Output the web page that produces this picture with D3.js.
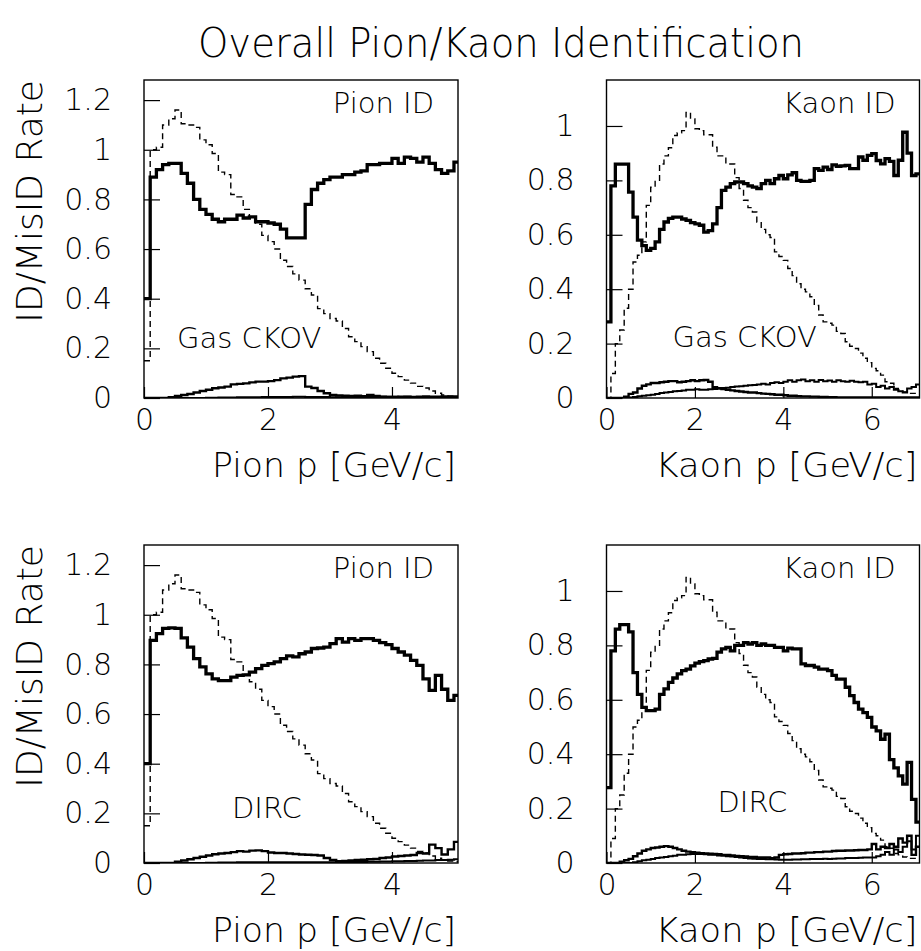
<!DOCTYPE html>
<html>
<head>
<meta charset="utf-8">
<script src="https://cdn.jsdelivr.net/npm/d3@7"></script>
<style>
  body { margin: 0; background: #fff; }
  svg text { font-family: "DejaVu Sans", "Liberation Sans", sans-serif; font-weight: 200; fill: #000; }
</style>
</head>
<body>
<svg id="chart" width="921" height="951"></svg>
<script>
// All histograms use 0.1 GeV/c bins starting at p = 0
const binWidth = 0.1;

// Momentum spectra (dashed), shared by both detector rows
const pionMomentum = [0.15, 1.00, 1.01, 1.10, 1.125, 1.16, 1.105, 1.10, 1.09, 1.04,
    1.02, 0.985, 0.91, 0.90, 0.82, 0.81, 0.76, 0.73, 0.70, 0.655,
    0.63, 0.60, 0.555, 0.53, 0.50, 0.475, 0.44, 0.415, 0.36, 0.34,
    0.32, 0.31, 0.28, 0.247, 0.227, 0.207, 0.187, 0.16, 0.14, 0.12,
    0.10, 0.086, 0.072, 0.06, 0.047, 0.04, 0.028, 0.019, 0.012, 0.008,
    0.005];
const kaonMomentum = [0, 0.09, 0.20, 0.25, 0.33, 0.40, 0.50, 0.525, 0.574, 0.708,
    0.775, 0.80, 0.86, 0.89, 0.92, 0.965, 0.975, 0.983, 1.05, 1.026,
    0.99, 0.983, 0.968, 0.968, 0.922, 0.89, 0.89, 0.86, 0.86, 0.81,
    0.77, 0.727, 0.70, 0.684, 0.647, 0.62, 0.60, 0.59, 0.537, 0.52,
    0.506, 0.476, 0.45, 0.42, 0.40, 0.39, 0.372, 0.34, 0.305, 0.28,
    0.275, 0.268, 0.245, 0.237, 0.207, 0.19, 0.182, 0.165, 0.146, 0.13,
    0.109, 0.10, 0.084, 0.06, 0.054, 0.035, 0.03, 0.022, 0.017, 0.017,
    0.017];

// Gas CKOV
const pionIdGas = [0.40, 0.89, 0.92, 0.94, 0.945, 0.945, 0.905, 0.865, 0.80, 0.76,
    0.74, 0.72, 0.71, 0.72, 0.72, 0.737, 0.725, 0.73, 0.71, 0.71,
    0.705, 0.70, 0.68, 0.645, 0.645, 0.645, 0.78, 0.84, 0.865, 0.88,
    0.89, 0.89, 0.90, 0.90, 0.91, 0.915, 0.94, 0.94, 0.945, 0.945,
    0.965, 0.945, 0.97, 0.965, 0.95, 0.97, 0.945, 0.92, 0.905, 0.915,
    0.95];
const pionMisGasA = [0, 0, 0, 0, 0.003, 0.008, 0.012, 0.016, 0.022, 0.028,
    0.033, 0.039, 0.042, 0.046, 0.055, 0.057, 0.059, 0.063, 0.066, 0.066,
    0.068, 0.072, 0.079, 0.082, 0.086, 0.088, 0.046, 0.040, 0.028, 0.019,
    0.012, 0.010, 0.009, 0.008, 0.009, 0.007, 0.012, 0.008, 0.005, 0.004,
    0.004, 0.003, 0.004, 0.003, 0.003, 0.002, 0.003, 0.002, 0.002, 0.002,
    0.002];
const pionMisGasB = [0, 0, 0, 0, 0, 0, 0, 0, 0, 0,
    0.001, 0.001, 0.002, 0.002, 0.002, 0.003, 0.003, 0.003, 0.003, 0.004,
    0.004, 0.004, 0.004, 0.004, 0.005, 0.005, 0.004, 0.004, 0.004, 0.004,
    0.003, 0.003, 0.003, 0.003, 0.003, 0.004, 0.004, 0.004, 0.005, 0.005,
    0.005, 0.006, 0.006, 0.005, 0.006, 0.007, 0.006, 0.006, 0.007, 0.006,
    0.007];
const kaonIdGas = [0.28, 0.78, 0.86, 0.86, 0.86, 0.757, 0.665, 0.58, 0.56, 0.543,
    0.55, 0.574, 0.62, 0.647, 0.66, 0.665, 0.665, 0.658, 0.653, 0.645,
    0.64, 0.635, 0.61, 0.615, 0.64, 0.70, 0.763, 0.775, 0.788, 0.794,
    0.794, 0.788, 0.78, 0.775, 0.77, 0.788, 0.80, 0.788, 0.806, 0.818,
    0.806, 0.82, 0.828, 0.80, 0.796, 0.796, 0.80, 0.843, 0.837, 0.849,
    0.84, 0.857, 0.852, 0.853, 0.855, 0.843, 0.843, 0.886, 0.874, 0.892,
    0.898, 0.873, 0.861, 0.88, 0.87, 0.818, 0.874, 0.977, 0.90, 0.818,
    0.824];
const kaonMisGasA = [0, 0, 0, 0, 0.005, 0.015, 0.02, 0.035, 0.045, 0.05,
    0.055, 0.055, 0.058, 0.06, 0.062, 0.062, 0.058, 0.06, 0.062, 0.065,
    0.062, 0.065, 0.066, 0.06, 0.04, 0.036, 0.033, 0.03, 0.028, 0.026,
    0.024, 0.022, 0.02, 0.02, 0.018, 0.016, 0.015, 0.014, 0.012, 0.012,
    0.01, 0.008, 0.008, 0.007, 0.006, 0.006, 0.005, 0.005, 0.004, 0.004,
    0.003, 0.003, 0.002, 0.002, 0.002, 0.002, 0.002, 0.002, 0.002, 0.002,
    0.002, 0.002, 0.002, 0.002, 0.002, 0.002, 0.002, 0.002, 0.002, 0.002,
    0.002];
const kaonMisGasB = [0, 0, 0, 0, 0, 0.002, 0.004, 0.006, 0.008, 0.01,
    0.012, 0.015, 0.018, 0.02, 0.022, 0.025, 0.026, 0.028, 0.03, 0.03,
    0.032, 0.03, 0.03, 0.032, 0.033, 0.035, 0.037, 0.038, 0.04, 0.042,
    0.043, 0.045, 0.047, 0.048, 0.05, 0.052, 0.05, 0.055, 0.058, 0.055,
    0.06, 0.065, 0.06, 0.065, 0.068, 0.062, 0.065, 0.06, 0.066, 0.062,
    0.064, 0.06, 0.065, 0.062, 0.06, 0.063, 0.06, 0.058, 0.06, 0.05,
    0.052, 0.04, 0.045, 0.035, 0.04, 0.03, 0.025, 0.02, 0.035, 0.04,
    0.05];

// DIRC
const pionIdDirc = [0.40, 0.897, 0.924, 0.945, 0.947, 0.945, 0.907, 0.87, 0.823, 0.79,
    0.762, 0.742, 0.735, 0.735, 0.749, 0.756, 0.758, 0.769, 0.783, 0.796,
    0.803, 0.81, 0.823, 0.834, 0.83, 0.843, 0.85, 0.864, 0.866, 0.87,
    0.884, 0.904, 0.89, 0.904, 0.897, 0.904, 0.904, 0.897, 0.888, 0.88,
    0.864, 0.85, 0.837, 0.816, 0.796, 0.742, 0.695, 0.756, 0.70, 0.655,
    0.675];
const pionMisDircA = [0, 0, 0, 0, 0, 0.005, 0.01, 0.015, 0.02, 0.025,
    0.03, 0.035, 0.038, 0.04, 0.044, 0.048, 0.046, 0.05, 0.051, 0.048,
    0.042, 0.04, 0.04, 0.038, 0.036, 0.034, 0.033, 0.032, 0.03, 0.02,
    0.012, 0.007, 0.008, 0.01, 0.012, 0.013, 0.015, 0.016, 0.02, 0.022,
    0.026, 0.028, 0.03, 0.032, 0.04, 0.038, 0.074, 0.06, 0.034, 0.055,
    0.085];
const pionMisDircB = [0, 0, 0, 0, 0, 0, 0, 0, 0, 0,
    0.001, 0.001, 0.002, 0.002, 0.002, 0.003, 0.003, 0.003, 0.003, 0.003,
    0.003, 0.003, 0.003, 0.003, 0.003, 0.003, 0.003, 0.003, 0.003, 0.003,
    0.003, 0.003, 0.003, 0.004, 0.004, 0.004, 0.005, 0.005, 0.006, 0.006,
    0.007, 0.007, 0.008, 0.008, 0.009, 0.01, 0.01, 0.012, 0.012, 0.013,
    0.015];
const kaonIdDirc = [0.277, 0.78, 0.86, 0.876, 0.876, 0.85, 0.70, 0.62, 0.572, 0.56,
    0.56, 0.566, 0.62, 0.64, 0.664, 0.68, 0.695, 0.707, 0.713, 0.725,
    0.735, 0.74, 0.744, 0.75, 0.752, 0.775, 0.787, 0.793, 0.78, 0.80,
    0.80, 0.81, 0.805, 0.81, 0.80, 0.805, 0.80, 0.80, 0.793, 0.793,
    0.78, 0.79, 0.787, 0.787, 0.732, 0.726, 0.726, 0.72, 0.713, 0.713,
    0.707, 0.69, 0.676, 0.676, 0.646, 0.615, 0.59, 0.566, 0.553, 0.535,
    0.50, 0.486, 0.455, 0.474, 0.38, 0.35, 0.32, 0.29, 0.37, 0.234,
    0.15];
const kaonMisDircA = [0, 0, 0, 0.005, 0.01, 0.015, 0.025, 0.035, 0.045, 0.05,
    0.055, 0.057, 0.06, 0.062, 0.06, 0.055, 0.05, 0.045, 0.042, 0.04,
    0.038, 0.036, 0.035, 0.034, 0.033, 0.032, 0.03, 0.03, 0.028, 0.026,
    0.025, 0.024, 0.022, 0.022, 0.02, 0.02, 0.02, 0.018, 0.02, 0.03,
    0.032, 0.033, 0.035, 0.035, 0.036, 0.038, 0.038, 0.04, 0.04, 0.042,
    0.042, 0.044, 0.045, 0.045, 0.046, 0.046, 0.047, 0.048, 0.048, 0.05,
    0.07, 0.05, 0.06, 0.055, 0.07, 0.06, 0.09, 0.075, 0.10, 0.03,
    0.06];
const kaonMisDircB = [0, 0, 0, 0, 0, 0, 0.003, 0.006, 0.01, 0.012,
    0.015, 0.018, 0.02, 0.022, 0.025, 0.027, 0.03, 0.03, 0.032, 0.033,
    0.033, 0.033, 0.032, 0.03, 0.03, 0.028, 0.027, 0.025, 0.024, 0.022,
    0.02, 0.018, 0.017, 0.016, 0.015, 0.015, 0.014, 0.014, 0.013, 0.012,
    0.012, 0.012, 0.013, 0.013, 0.014, 0.014, 0.015, 0.015, 0.015, 0.016,
    0.015, 0.016, 0.017, 0.017, 0.018, 0.018, 0.018, 0.019, 0.02, 0.02,
    0.02, 0.025, 0.03, 0.04, 0.03, 0.05, 0.04, 0.06, 0.08, 0.05,
    0.10];

const pionXTicks = [0, 2, 4];
const kaonXTicks = [0, 2, 4, 6];
const pionYTicks = [0, 0.2, 0.4, 0.6, 0.8, 1, 1.2];
const kaonYTicks = [0, 0.2, 0.4, 0.6, 0.8, 1];

const panels = [
    {left: 144, top: 80, width: 314, xMax: 5.065, yMax: 1.281, xTicks: pionXTicks, yTicks: pionYTicks,
     id: 'Pion ID', xTitle: 'Pion p [GeV/c]', titleLen: 244, det: 'Gas CKOV', detX: 33, detY: 268,
     idRate: pionIdGas, momentum: pionMomentum, misA: pionMisGasA, misB: pionMisGasB, yTitle: true},
    {left: 606.5, top: 80, width: 313, xMax: 7.08, yMax: 1.169, xTicks: kaonXTicks, yTicks: kaonYTicks,
     id: 'Kaon ID', xTitle: 'Kaon p [GeV/c]', titleLen: 262, det: 'Gas CKOV', detX: 66, detY: 267,
     idRate: kaonIdGas, momentum: kaonMomentum, misA: kaonMisGasA, misB: kaonMisGasB, yTitle: false},
    {left: 144, top: 545, width: 314, xMax: 5.065, yMax: 1.281, xTicks: pionXTicks, yTicks: pionYTicks,
     id: 'Pion ID', xTitle: 'Pion p [GeV/c]', titleLen: 244, det: 'DIRC', detX: 88, detY: 273,
     idRate: pionIdDirc, momentum: pionMomentum, misA: pionMisDircA, misB: pionMisDircB, yTitle: true},
    {left: 606.5, top: 545, width: 313, xMax: 7.08, yMax: 1.169, xTicks: kaonXTicks, yTicks: kaonYTicks,
     id: 'Kaon ID', xTitle: 'Kaon p [GeV/c]', titleLen: 262, det: 'DIRC', detX: 111, detY: 267,
     idRate: kaonIdDirc, momentum: kaonMomentum, misA: kaonMisDircA, misB: kaonMisDircB, yTitle: false}
];
const plotHeight = 318;

const svg = d3.select('#chart');

svg.append('text')
    .attr('x', 501)
    .attr('y', 57)
    .attr('text-anchor', 'middle')
    .attr('textLength', 606)
    .attr('lengthAdjust', 'spacingAndGlyphs')
    .style('font-size', '41px')
    .text('Overall Pion/Kaon Identification');

// turn bin contents into step points: one point per low edge plus the last high edge
const toSteps = function toSteps(values) {
    const pts = values.map((v, i) => [i * binWidth, v]);
    pts.push([values.length * binWidth, values[values.length - 1]]);
    return pts;
};

panels.forEach((p, idx) => {
    const x = d3.scaleLinear().domain([0, p.xMax]).range([0, p.width]);
    const y = d3.scaleLinear().domain([0, p.yMax]).range([plotHeight, 0]);

    const g = svg.append('g')
        .attr('transform', 'translate(' + p.left + ',' + p.top + ')');

    g.append('clipPath')
        .attr('id', 'clip-' + idx)
    .append('rect')
        .attr('width', p.width)
        .attr('height', plotHeight);

    const line = d3.line()
        .curve(d3.curveStepAfter)
        .x((d) => { return x(d[0]) })
        .y((d) => { return y(d[1]) });

    const plot = g.append('g').attr('clip-path', 'url(#clip-' + idx + ')');

    const series = [
        {values: p.momentum, width: 1.4, dash: '6,4'},
        {values: p.misB, width: 2.0, dash: null},
        {values: p.misA, width: 2.4, dash: null},
        {values: p.idRate, width: 3.3, dash: null}
    ];

    plot.selectAll('.hist')
        .data(series)
        .enter()
    .append('path')
        .attr('class', 'hist')
        .attr('d', (d) => { return line(toSteps(d.values)) })
        .attr('fill', 'none')
        .attr('stroke', '#000')
        .attr('stroke-width', (d) => { return d.width })
        .attr('stroke-dasharray', (d) => { return d.dash })
        .attr('stroke-linejoin', 'miter');

    // axes, ticks pointing into the frame
    const fmt = (d) => { return String(+d.toFixed(1)) };
    const yAxis = g.append('g')
        .call(d3.axisLeft(y)
            .tickValues(p.yTicks)
            .tickSizeInner(-16)
            .tickSizeOuter(0)
            .tickPadding(32)
            .tickFormat(fmt));
    const xAxis = g.append('g')
        .attr('transform', 'translate(0,' + plotHeight + ')')
        .call(d3.axisBottom(x)
            .tickValues(p.xTicks)
            .tickSizeInner(-11)
            .tickSizeOuter(0)
            .tickPadding(11)
            .tickFormat(fmt));

    [yAxis, xAxis].forEach((a) => {
        a.select('.domain').remove();
        a.selectAll('line').attr('stroke', '#000').attr('stroke-width', 1.2);
        a.selectAll('text')
            .attr('fill', '#000')
            .style('font-family', '"DejaVu Sans", "Liberation Sans", sans-serif')
            .style('font-weight', 200)
            .style('font-size', '30px');
    });

    g.append('rect')
        .attr('width', p.width)
        .attr('height', plotHeight)
        .attr('fill', 'none')
        .attr('stroke', '#000')
        .attr('stroke-width', 1.4);

    g.append('text')
        .attr('x', p.width - 24)
        .attr('y', 33)
        .attr('text-anchor', 'end')
        .style('font-size', '29px')
        .text(p.id);

    g.append('text')
        .attr('x', p.detX)
        .attr('y', p.detY)
        .style('font-size', '29px')
        .text(p.det);

    g.append('text')
        .attr('x', p.width - 2)
        .attr('y', plotHeight + 79)
        .attr('text-anchor', 'end')
        .attr('textLength', p.titleLen)
        .attr('lengthAdjust', 'spacingAndGlyphs')
        .style('font-size', '33px')
        .text(p.xTitle);

    if (p.yTitle) {
        g.append('text')
            .attr('transform', 'translate(' + (42 - p.left) + ',0) rotate(-90)')
            .attr('text-anchor', 'end')
            .style('font-size', '36px')
            .text('ID/MisID Rate');
    }
});
</script>
</body>
</html>
